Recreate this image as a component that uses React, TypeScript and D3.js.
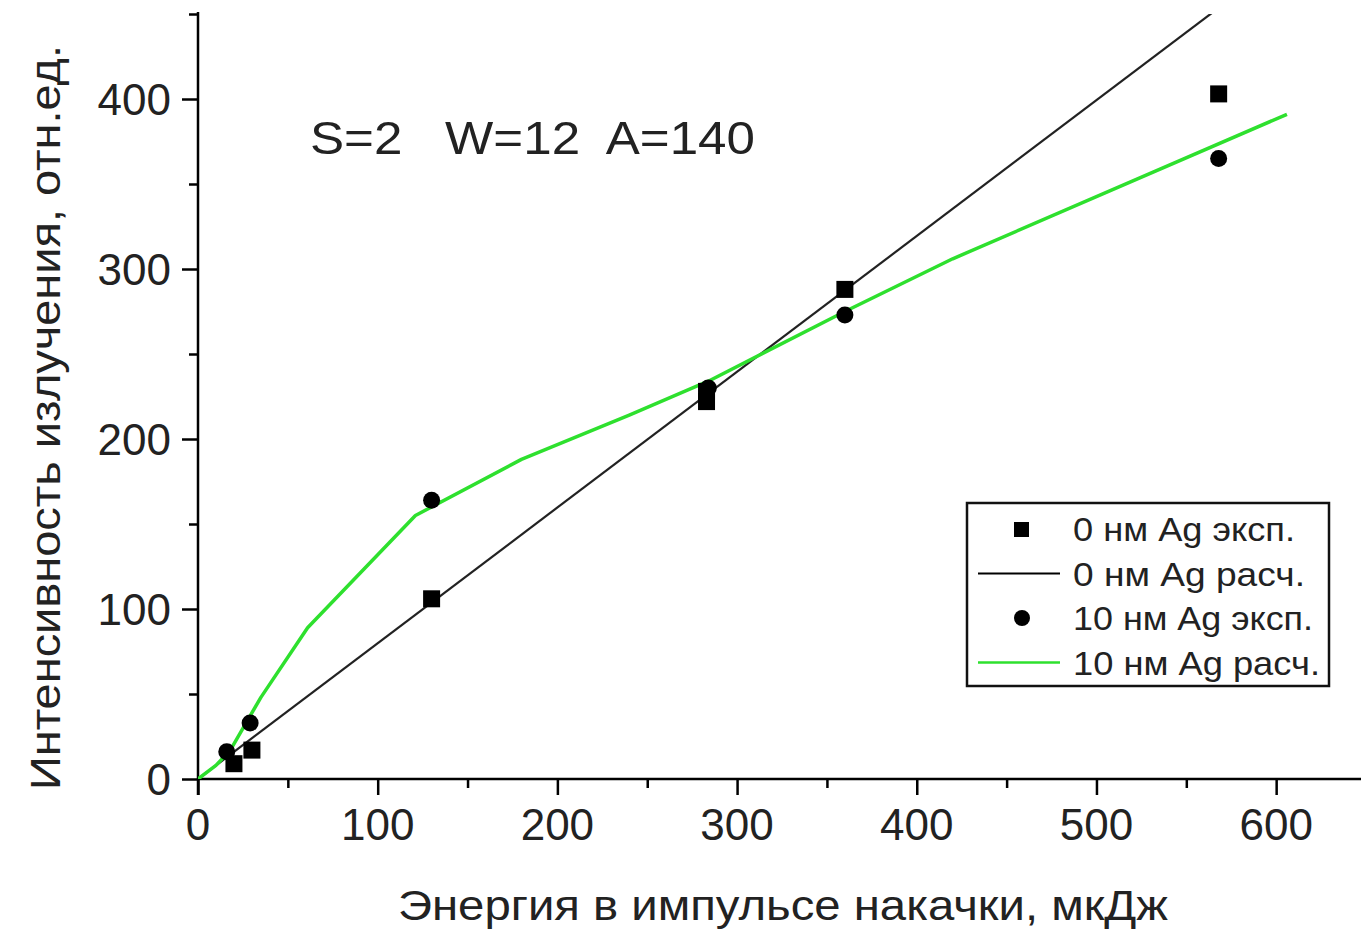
import React, { useEffect, useRef } from 'react';
import * as d3 from 'd3';

// экспериментальные точки, 0 нм Ag
const exp0X = [20, 30, 130, 283, 283, 360, 568];
const exp0Y = [9, 17, 106, 228, 222, 288, 403];
// экспериментальные точки, 10 нм Ag
const exp10X = [16, 29, 130, 284, 360, 568];
const exp10Y = [16, 33, 164, 230, 273, 365];
// расчёт, 0 нм Ag (прямая)
const calc0X = [0, 566];
const calc0Y = [0, 452];
// расчёт, 10 нм Ag
const calc10X = [0, 10, 18, 35, 61, 121, 180, 240, 284, 360, 420, 606];
const calc10Y = [0, 8, 17, 48, 89, 155, 188, 214, 234, 275, 306, 391];

const xMajor = [0, 100, 200, 300, 400, 500, 600];
const xMinor = [50, 150, 250, 350, 450, 550];
const yMajor = [0, 100, 200, 300, 400];
const yMinor = [50, 150, 250, 350, 450];

const legendItems = ['0 нм Ag эксп.', '0 нм Ag расч.', '10 нм Ag эксп.', '10 нм Ag расч.'];

const App = () => {
  const ref = useRef<SVGSVGElement>(null);

  useEffect(() => {
    if (!ref.current) return;
    const width = 1361;
    const height = 930;
    const font = 'Liberation Sans, Arial, sans-serif';

    const svg = d3.select(ref.current);
    svg.selectAll('*').remove();
    svg.attr('width', width).attr('height', height);

    const x = d3.scaleLinear().domain([0, 650]).range([198, 1366]);
    const y = d3.scaleLinear().domain([0, 450]).range([779, 14]);

    svg.append('defs').append('clipPath').attr('id', 'plot')
      .append('rect')
      .attr('x', x(0)).attr('y', y(450))
      .attr('width', x(650) - x(0)).attr('height', y(0) - y(450));

    // оси
    const xAxis = svg.append('g').attr('transform', `translate(0,${y(0)})`);
    xAxis.call(d3.axisBottom(x).tickValues(xMajor).tickSize(16).tickFormat(() => ''));
    xAxis.append('g').call(d3.axisBottom(x).tickValues(xMinor).tickSize(9).tickFormat(() => ''));
    xAxis.selectAll('.domain').remove();
    xAxis.append('line').attr('x1', x(0)).attr('x2', width).attr('stroke', '#000').attr('stroke-width', 2.5);
    xAxis.selectAll('.tick line').attr('stroke', '#000').attr('stroke-width', 2.5);

    const yAxis = svg.append('g').attr('transform', `translate(${x(0)},0)`);
    yAxis.call(d3.axisLeft(y).tickValues(yMajor).tickSize(16).tickFormat(() => ''));
    yAxis.append('g').call(d3.axisLeft(y).tickValues(yMinor).tickSize(9).tickFormat(() => ''));
    yAxis.selectAll('.domain').remove();
    yAxis.append('line').attr('y1', y(450) - 2).attr('y2', y(0) + 16).attr('stroke', '#000').attr('stroke-width', 2.5);
    yAxis.selectAll('.tick line').attr('stroke', '#000').attr('stroke-width', 2.5);

    // подписи делений
    svg.append('g').selectAll('text').data(xMajor).join('text')
      .attr('x', d => x(d)).attr('y', 840)
      .attr('text-anchor', 'middle')
      .attr('font-family', font).attr('font-size', 44).attr('fill', '#222')
      .text(d => d);

    svg.append('g').selectAll('text').data(yMajor).join('text')
      .attr('x', 171).attr('y', d => y(d) + 16)
      .attr('text-anchor', 'end')
      .attr('font-family', font).attr('font-size', 44).attr('fill', '#222')
      .text(d => d);

    // заголовки осей
    svg.append('text')
      .attr('x', 398).attr('y', 920)
      .attr('font-family', font).attr('font-size', 43).attr('fill', '#222')
      .attr('textLength', 770).attr('lengthAdjust', 'spacingAndGlyphs')
      .text('Энергия в импульсе накачки, мкДж');

    svg.append('text')
      .attr('transform', 'translate(60,790) rotate(-90)')
      .attr('font-family', font).attr('font-size', 43).attr('fill', '#222')
      .attr('textLength', 745).attr('lengthAdjust', 'spacingAndGlyphs')
      .text('Интенсивность излучения, отн.ед.');

    svg.append('text')
      .attr('x', 310).attr('y', 154)
      .attr('font-family', font).attr('font-size', 47).attr('fill', '#222')
      .attr('textLength', 445).attr('lengthAdjust', 'spacingAndGlyphs')
      .style('white-space', 'pre')
      .text('S=2   W=12  A=140');

    // линии
    const plot = svg.append('g').attr('clip-path', 'url(#plot)');
    const line = d3.line<[number, number]>().x(d => x(d[0])).y(d => y(d[1]));

    plot.append('path')
      .attr('d', line(calc0X.map((v, i) => [v, calc0Y[i]] as [number, number])))
      .attr('fill', 'none').attr('stroke', '#222').attr('stroke-width', 2.2);

    plot.append('path')
      .attr('d', line(calc10X.map((v, i) => [v, calc10Y[i]] as [number, number])))
      .attr('fill', 'none').attr('stroke', '#2ee02e').attr('stroke-width', 3.5)
      .attr('stroke-linejoin', 'round');

    // точки
    const sq = 17;
    svg.append('g').selectAll('rect').data(exp0X.map((v, i) => [v, exp0Y[i]])).join('rect')
      .attr('x', d => x(d[0]) - sq / 2).attr('y', d => y(d[1]) - sq / 2)
      .attr('width', sq).attr('height', sq).attr('fill', '#000');

    svg.append('g').selectAll('circle').data(exp10X.map((v, i) => [v, exp10Y[i]])).join('circle')
      .attr('cx', d => x(d[0])).attr('cy', d => y(d[1]))
      .attr('r', 8.5).attr('fill', '#000');

    // легенда
    const lg = svg.append('g');
    lg.append('rect')
      .attr('x', 967).attr('y', 503).attr('width', 362).attr('height', 183)
      .attr('fill', '#fff').attr('stroke', '#111').attr('stroke-width', 2.5);
    const rowY = (i: number) => 529 + i * 44.5;
    lg.append('rect').attr('x', 1014).attr('y', rowY(0) - 7).attr('width', 15).attr('height', 15).attr('fill', '#000');
    lg.append('line').attr('x1', 978).attr('x2', 1060).attr('y1', rowY(1)).attr('y2', rowY(1))
      .attr('stroke', '#000').attr('stroke-width', 2);
    lg.append('circle').attr('cx', 1022).attr('cy', rowY(2)).attr('r', 8).attr('fill', '#000');
    lg.append('line').attr('x1', 978).attr('x2', 1060).attr('y1', rowY(3)).attr('y2', rowY(3))
      .attr('stroke', '#2ee02e').attr('stroke-width', 2.5);
    lg.selectAll('text.item').data(legendItems).join('text')
      .attr('class', 'item')
      .attr('x', 1073).attr('y', (d, i) => rowY(i) + 12)
      .attr('font-family', font).attr('font-size', 33).attr('fill', '#222')
      .attr('textLength', (d, i) => [222, 232, 240, 247][i]).attr('lengthAdjust', 'spacingAndGlyphs')
      .text(d => d);
  }, []);

  return <svg ref={ref} style={{ position: 'absolute', left: 0, top: 0, background: '#fff' }} />;
};

export default App;
